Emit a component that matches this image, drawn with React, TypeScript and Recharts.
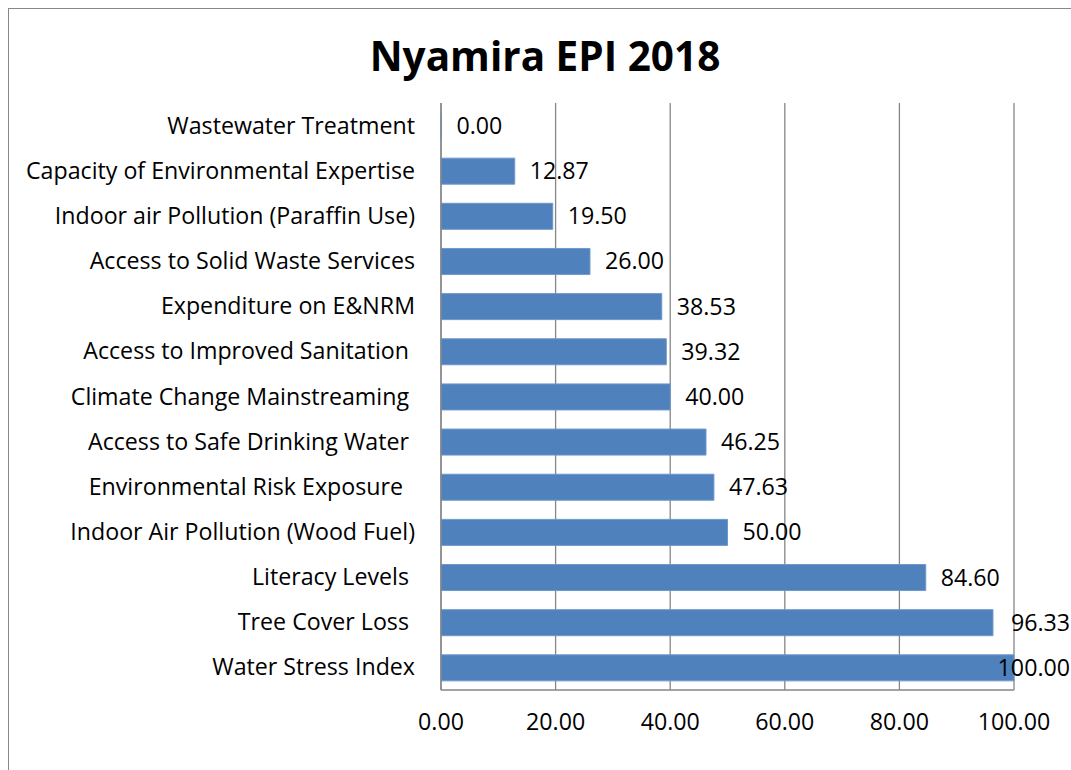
import React from 'react'
import { BarChart, Bar, XAxis, YAxis, CartesianGrid } from 'recharts'

const indicators = [
  'Wastewater Treatment',
  'Capacity of Environmental Expertise',
  'Indoor air Pollution (Paraffin Use)',
  'Access to Solid Waste Services',
  'Expenditure on E&NRM',
  'Access to Improved Sanitation ',
  'Climate Change Mainstreaming ',
  'Access to Safe Drinking Water ',
  'Environmental Risk Exposure  ',
  'Indoor Air Pollution (Wood Fuel)',
  'Literacy Levels ',
  'Tree Cover Loss ',
  'Water Stress Index',
]
const scores = [0, 12.87, 19.5, 26, 38.53, 39.32, 40, 46.25, 47.63, 50, 84.6, 96.33, 100]
const xTicks = [0, 20, 40, 60, 80, 100]

const data = indicators.map((name, i) => ({ name, score: scores[i] }))

const FONT = '"Open Sans", sans-serif'
const FS = 23.2
const W = 1062
const H = 761

const CategoryTick = (props: any) => {
  const { x, y, payload } = props
  return (
    <text x={x - 18} y={y} dy={8} textAnchor="end" fontSize={FS} fill="#000" fontFamily={FONT} style={{ whiteSpace: 'pre' }}>
      {payload.value}
    </text>
  )
}

// value label right of the bar; pulled back inside the chart when it would run off the edge
const ValueLabel = (props: any) => {
  const { x, y, width, height, value } = props
  const text = Number(value).toFixed(2)
  const start = x + width + 15
  const approxW = text.length * FS * 0.57
  const overflow = start + approxW > W
  return (
    <text
      x={overflow ? W - 1 : start}
      y={y + height / 2}
      dy={8}
      textAnchor={overflow ? 'end' : 'start'}
      fontSize={FS}
      fill="#000"
      fontFamily={FONT}
    >
      {text}
    </text>
  )
}

export default function App() {
  return (
    <div style={{ padding: '8px 0 0 8px', width: 1071, height: 770, boxSizing: 'border-box', overflow: 'hidden' }}>
      <style>{'html, body { margin: 0; overflow: hidden; }'}</style>
      <div style={{ position: 'relative', width: W, height: H, borderLeft: '1px solid #888', borderTop: '1px solid #888', background: '#fff' }}>
        <div style={{ position: 'absolute', left: 10, top: 19, width: W - 10, textAlign: 'center', fontFamily: FONT, fontWeight: 700, fontSize: 40.5, color: '#000' }}>
          Nyamira EPI 2018
        </div>
        <BarChart
          width={W}
          height={H}
          data={data}
          layout="vertical"
          margin={{ top: 94, right: 57, left: 0, bottom: 30 }}
          barSize={26}
        >
          <CartesianGrid vertical horizontal={false} stroke="#868686" strokeWidth={1.3} />
          <XAxis
            type="number"
            domain={[0, 100]}
            ticks={xTicks}
            tickFormatter={(v: number) => v.toFixed(2)}
            axisLine={{ stroke: '#868686', strokeWidth: 1.3 }}
            tickLine={false}
            tick={{ fontSize: FS, fill: '#000', fontFamily: FONT }}
            tickMargin={18}
            height={50}
          />
          <YAxis
            type="category"
            dataKey="name"
            width={432}
            axisLine={{ stroke: '#868686', strokeWidth: 1.3 }}
            tickLine={false}
            tick={<CategoryTick />}
            interval={0}
          />
          <Bar
            dataKey="score"
            fill="#4F81BD"
            stroke="#6E97CB"
            strokeWidth={1}
            minPointSize={0.5}
            isAnimationActive={false}
            label={<ValueLabel />}
          />
        </BarChart>
      </div>
    </div>
  )
}
